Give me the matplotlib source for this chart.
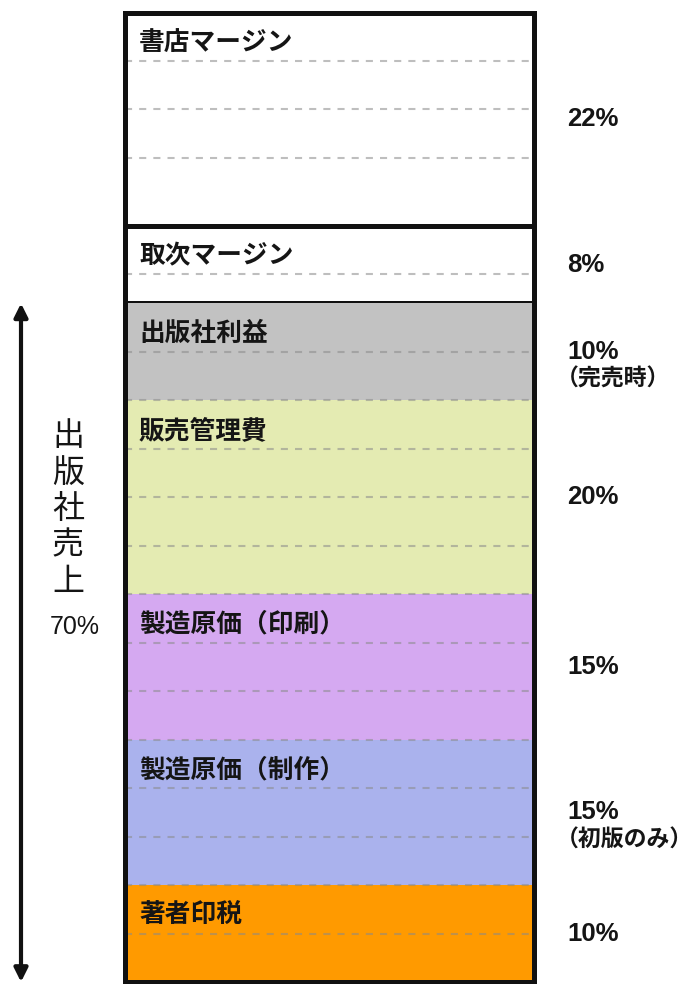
import matplotlib
matplotlib.use("Agg")
import matplotlib.pyplot as plt
import matplotlib.transforms as mtransforms

plt.rcParams['font.family'] = ['Noto Sans CJK JP', 'DejaVu Sans']

# Breakdown of a book's list price, listed from the top of the column down
segments = ['書店マージン', '取次マージン', '出版社利益', '販売管理費',
            '製造原価（印刷）', '製造原価（制作）', '著者印税']
shares = [22, 8, 10, 20, 15, 15, 10]
share_labels = ['22%', '8%', '10%', '20%', '15%', '15%', '10%']
share_notes = ['', '', '（完売時）', '', '', '（初版のみ）', '']
colors = ['#ffffff', '#ffffff', '#c2c2c2', '#e4ebb2', '#d5a9f1', '#aab2ed', '#ff9a00']
publisher_label = '出版社売上'
publisher_share = 70
publisher_share_label = '70%'

W, H = 697, 984
fig = plt.figure(figsize=(W / 100, H / 100), dpi=100)


def fx(px):
    return px / W


def fy(py):
    return 1 - py / H


ax = fig.add_axes([fx(124.5), fy(982), fx(533.5) - fx(124.5), fy(12.5) - fy(982)])
ax.set_xlim(-0.5, 0.5)
ax.set_ylim(0, 100)
ax.set_xticks([])
ax.set_yticks([])
for sp in ax.spines.values():
    sp.set_linewidth(3.6)
    sp.set_color('#111111')
    sp.set_zorder(6)

# stack the segments from the bottom of the column upwards
tops = []
running = 100
for val in shares:
    tops.append(running)
    running -= val
bottoms = [t - v for t, v in zip(tops, shares)]

for name, val, bot, col in zip(segments, shares, bottoms, colors):
    white = col.lower() == '#ffffff'
    ax.bar(0, val, bottom=bot, width=1, color=col,
           edgecolor='#111111' if white else 'none',
           linewidth=3.6 if white else 0, zorder=2)

# dotted guide lines every 5 points inside each segment
dash_kw = dict(color='#8a8a8a', alpha=0.55, linewidth=1.5,
               linestyle=(0, (3.4, 3.4)), zorder=3)
for i, (top, bot, col) in enumerate(zip(tops, bottoms, colors)):
    y = top - 5
    while y > bot + 2.5:
        ax.axhline(y, **dash_kw)
        y -= 5
    nxt = colors[i + 1] if i + 1 < len(colors) else None
    if nxt is not None and col.lower() != '#ffffff' and nxt.lower() != '#ffffff':
        ax.axhline(bot, **dash_kw)

# segment names at the upper-left of each block
name_tf = mtransforms.blended_transform_factory(fig.transFigure, ax.transData)
for name, top in zip(segments, tops):
    ax.annotate(name, xy=(fx(139), top), xycoords=name_tf,
                xytext=(0, -21.5), textcoords='offset points',
                ha='left', va='center', fontsize=18.5, fontweight='bold',
                color='#151515', zorder=7, annotation_clip=False)

# share labels to the right of the column
for lab, note, top, bot in zip(share_labels, share_notes, tops, bottoms):
    mid = (top + bot) / 2
    ax.annotate(lab, xy=(fx(567), mid), xycoords=name_tf,
                ha='left', va='center', fontsize=18.5, fontweight='bold',
                family=['Liberation Sans', 'Noto Sans CJK JP'],
                color='#151515', annotation_clip=False)
    if note:
        ax.annotate(note, xy=(fx(556), mid), xycoords=name_tf,
                    xytext=(0, -20), textcoords='offset points',
                    ha='left', va='center', fontsize=16.5, fontweight='bold',
                    color='#151515', annotation_clip=False)

# double-headed arrow spanning the publisher's revenue
ax.annotate('', xy=(fx(21), publisher_share), xycoords=name_tf,
            xytext=(fx(21), 0), textcoords=name_tf,
            arrowprops=dict(arrowstyle='<|-|>', color='#111111', lw=3,
                            mutation_scale=20, shrinkA=0, shrinkB=0),
            annotation_clip=False)

for k, ch in enumerate(publisher_label):
    fig.text(fx(68), fy(436 + 36.5 * k), ch, ha='center', va='center',
             fontsize=23, color='#151515')
fig.text(fx(75), fy(627), publisher_share_label, ha='center', va='center',
         fontsize=18, family=['Liberation Sans', 'DejaVu Sans'], color='#151515')

fig.savefig('out.png', dpi=100)
